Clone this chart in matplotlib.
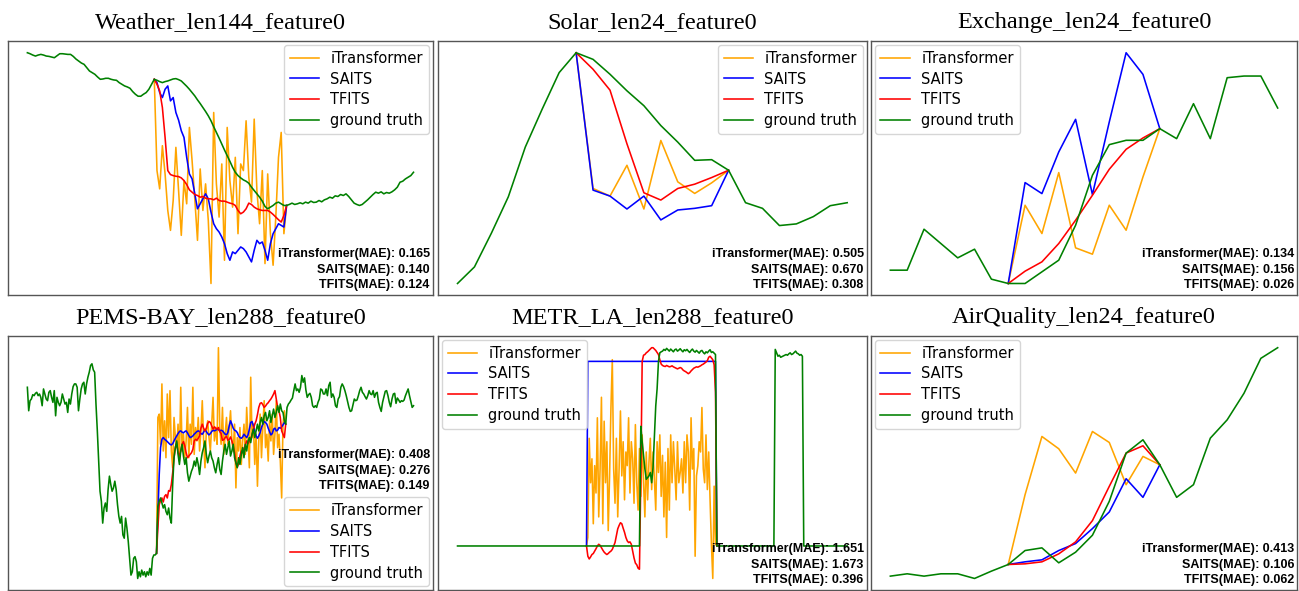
import matplotlib
matplotlib.use('Agg')
import matplotlib.pyplot as plt
import numpy as np

# ---------------- data (normalised values) ----------------
weather_gt = [-0.65, -0.68, -0.72, -0.75, -0.72, -0.70, -0.72, -0.75, -0.76, -0.78,
              -0.80, -0.74, -0.68, -0.68, -0.69, -0.70, -0.70, -0.76, -0.84, -0.90,
              -0.96, -1.00, -1.10, -1.20, -1.25, -1.30, -1.38, -1.45, -1.44, -1.42,
              -1.42, -1.45, -1.47, -1.48, -1.55, -1.60, -1.65, -1.68, -1.72, -1.82,
              -1.90, -1.96, -1.96, -1.90, -1.85, -1.75, -1.60, -1.45, -1.48, -1.52,
              -1.55, -1.52, -1.50, -1.47, -1.44, -1.43, -1.46, -1.50, -1.58, -1.66,
              -1.75, -1.85, -1.95, -2.07, -2.18, -2.30, -2.42, -2.55, -2.70, -2.88,
              -3.05, -3.22, -3.40, -3.58, -3.75, -3.92, -4.10, -4.25, -4.35, -4.42,
              -4.48, -4.52, -4.58, -4.70, -4.80, -4.90, -5.00, -5.12, -5.28, -5.35,
              -5.30, -5.25, -5.18, -5.15, -5.20, -5.25, -5.25, -5.22, -5.18, -5.22,
              -5.20, -5.17, -5.20, -5.15, -5.18, -5.12, -5.16, -5.15, -5.10, -5.14,
              -5.08, -5.05, -5.00, -5.03, -4.96, -4.98, -4.92, -4.95, -4.90, -4.98,
              -5.08, -5.18, -5.22, -5.25, -5.22, -5.15, -5.08, -5.00, -4.92, -4.85,
              -4.88, -4.84, -4.90, -4.86, -4.88, -4.84, -4.78, -4.70, -4.55, -4.52,
              -4.45, -4.40, -4.35, -4.25]
weather_start = 47
weather_itr = [-1.45, -4.20, -4.75, -3.45, -4.30, -5.40, -6.00, -5.10, -3.50, -4.80,
               -6.15, -4.50, -5.20, -2.90, -3.90, -5.05, -6.30, -4.15, -5.40, -4.60,
               -5.70, -7.60, -2.45, -4.60, -5.60, -4.00, -6.90, -2.90, -4.50, -5.30,
               -3.80, -6.10, -4.00, -4.20, -2.70, -4.40, -5.15, -2.65, -4.80, -5.80,
               -4.20, -7.00, -4.30, -6.10, -7.05, -5.60, -3.80, -3.05, -6.10, -5.25]
weather_saits = [-1.45, -1.55, -1.85, -2.00, -1.75, -1.65, -2.10, -2.00, -2.45, -2.68,
                 -3.00, -3.20, -3.80, -4.30, -4.45, -4.90, -5.35, -5.20, -5.05, -4.90,
                 -5.05, -5.45, -5.80, -5.95, -6.05, -6.20, -6.40, -6.70, -6.90, -6.65,
                 -6.70, -6.60, -6.50, -6.55, -6.65, -6.80, -6.95, -6.60, -6.30, -6.40,
                 -6.35, -6.60, -6.90, -6.40, -6.10, -5.95, -5.80, -5.85, -5.90, -5.25]
weather_tfits = [-1.45, -1.60, -1.80, -2.30, -3.20, -4.20, -4.32, -4.35, -4.37, -4.38,
                 -4.42, -4.50, -4.62, -4.78, -4.85, -4.92, -4.95, -5.00, -4.98, -5.03,
                 -5.05, -5.05, -5.08, -5.03, -5.10, -5.12, -5.12, -5.15, -5.18, -5.20,
                 -5.25, -5.40, -5.50, -5.45, -5.35, -5.18, -5.22, -5.30, -5.35, -5.38,
                 -5.40, -5.40, -5.40, -5.45, -5.52, -5.60, -5.68, -5.75, -5.55, -5.25]

solar_gt = [-7.62, -7.12, -6.10, -5.00, -3.50, -2.35, -1.25, -0.65, -0.85, -1.30,
            -1.80, -2.25, -2.85, -3.35, -3.90, -3.88, -4.20, -5.18, -5.35, -5.87,
            -5.82, -5.60, -5.27, -5.18]
solar_start = 7
solar_itr = [-0.65, -4.75, -4.98, -4.05, -5.37, -3.30, -4.55, -4.90, -4.58, -4.20]
solar_saits = [-0.65, -4.80, -4.98, -5.37, -4.98, -5.70, -5.40, -5.35, -5.27, -4.20]
solar_tfits = [-0.65, -1.15, -1.78, -3.40, -4.88, -5.10, -4.75, -4.62, -4.42, -4.20]

exchange_gt = [-7.15, -7.15, -5.92, -6.35, -6.78, -6.52, -7.42, -7.55, -7.55, -7.20,
               -6.85, -5.80, -4.30, -3.38, -3.25, -3.25, -2.90, -3.20, -2.15, -3.20,
               -1.37, -1.32, -1.32, -2.28]
exchange_start = 7
exchange_itr = [-7.55, -5.20, -6.05, -4.22, -6.48, -6.67, -5.20, -5.95, -4.35, -2.90]
exchange_saits = [-7.55, -4.52, -4.85, -3.60, -2.62, -4.88, -2.70, -0.62, -1.27, -2.90]
exchange_tfits = [-7.55, -7.18, -6.90, -6.35, -5.65, -4.90, -4.12, -3.52, -3.18, -2.90]

pems_gt = [-1.40, -2.10, -1.80, -1.75, -1.62, -1.65, -1.58, -1.55, -1.65, -1.60,
           -1.70, -1.95, -1.45, -1.60, -1.75, -1.80, -1.55, -1.50, -1.70, -1.85,
           -1.50, -2.25, -1.70, -1.85, -1.95, -1.85, -1.60, -1.75, -1.90, -1.85,
           -2.15, -1.75, -1.90, -1.60, -1.38, -1.30, -1.30, -1.40, -2.10, -1.75,
           -1.45, -1.30, -1.25, -1.60, -1.30, -1.10, -0.95, -0.75, -0.70, -0.88,
           -0.95, -1.90, -2.70, -3.60, -4.50, -4.80, -5.45, -5.00, -4.85, -5.10,
           -4.45, -4.05, -4.30, -4.50, -4.40, -4.20, -4.45, -4.90, -5.25, -5.45,
           -5.25, -5.80, -5.90, -5.30, -5.60, -6.00, -6.50, -7.00, -6.90, -6.50,
           -6.45, -6.60, -7.10, -6.90, -7.05, -6.85, -7.00, -6.90, -7.05, -6.90,
           -7.00, -6.80, -7.00, -6.50, -6.40, -6.40, -6.35,
           -4.95, -4.80, -4.70, -4.85, -5.00, -4.90, -5.10, -5.20, -5.00, -5.30,
           -5.45, -4.30, -3.50, -3.20, -3.00, -3.40, -3.70, -3.30, -3.10, -3.45,
           -3.70, -3.50, -3.95, -4.20, -4.05, -3.90, -3.80, -3.60, -3.75, -3.50,
           -3.70, -4.00, -3.60, -3.35, -3.20, -3.00, -3.40, -3.65, -3.45, -3.30,
           -3.50, -3.60, -3.80, -3.95, -3.70, -3.50, -3.85, -4.00, -3.60, -3.30,
           -3.10, -3.40, -3.20, -3.00, -3.45, -3.30, -3.10, -3.50, -3.65, -3.80,
           -3.50, -3.70, -3.40, -3.20, -3.50, -3.10, -3.30, -3.00, -2.90, -3.05,
           -2.80, -2.65, -2.90, -2.70, -2.50, -2.70, -2.45, -2.30, -2.50, -2.25,
           -2.15, -2.40, -2.30, -2.10, -2.45, -2.25, -2.05, -2.30, -2.15, -1.95,
           -2.15, -1.90, -2.10, -2.15, -2.40, -2.50,
           -2.00, -1.90, -1.85, -1.78, -1.72, -1.50, -1.30, -1.50, -1.45, -1.55,
           -1.40, -1.05, -1.25, -1.12, -1.48, -1.70, -1.62, -1.58, -1.70, -1.95,
           -2.00, -1.95, -2.00, -1.85, -1.75, -1.45, -1.48, -1.60, -1.60, -1.45,
           -1.65, -1.35, -1.25, -1.70, -1.60, -1.70, -1.95, -2.00, -1.75, -1.68,
           -1.40, -1.30, -1.38, -1.50, -1.65, -1.82, -2.00, -2.12, -2.10, -1.92,
           -1.75, -1.80, -1.78, -1.65, -1.50, -1.40, -1.55, -1.60, -1.68, -1.75,
           -1.65, -1.50, -1.60, -1.62, -1.50, -1.70, -1.58, -1.55, -1.85, -2.00,
           -2.12, -1.85, -1.68, -1.52, -1.50, -1.65, -1.85, -1.98, -1.75, -1.60,
           -1.58, -1.88, -1.72, -1.78, -1.85, -1.80, -1.82, -1.78, -1.65, -1.55,
           -1.45, -1.65, -1.82, -2.00, -1.95]
pems_start = 96
pems_itr = [-6.35, -2.30, -2.20, -3.10, -1.30, -3.30, -2.40, -3.50, -1.60, -2.90,
            -1.50, -3.30, -3.80, -2.30, -2.90, -3.20, -2.50, -3.60, -1.40, -3.30,
            -2.80, -3.50, -3.00, -2.00, -3.50, -2.50, -3.10, -1.40, -3.40, -2.60,
            -3.00, -2.30, -3.30, -2.70, -1.80, -3.00, -3.80, -2.70, -2.40, -2.90,
            -3.30, -2.50, -1.70, -3.00, -2.60, -3.10, -0.22, -2.60, -3.10, -2.00,
            -3.40, -2.80, -2.30, -3.10, -2.60, -2.10, -3.00, -3.30, -2.50, -4.40,
            -2.90, -3.30, -2.60, -3.70, -3.00, -2.50, -3.40, -2.00, -2.90, -3.80,
            -1.10, -2.90, -2.50, -3.70, -2.80, -4.35, -3.00, -2.20, -3.50, -2.60,
            -1.80, -3.20, -2.80, -3.60, -2.40, -3.00, -2.20, -3.40, -2.80, -1.80,
            -3.20, -2.80, -3.60, -4.70, -2.50, -2.10, -2.50]
pems_saits = [-6.35, -5.20, -4.00, -3.20, -2.95, -2.90, -2.95, -2.98, -3.02, -3.06,
              -3.10, -3.12, -3.08, -3.00, -2.92, -2.85, -2.78, -2.72, -2.70, -2.74,
              -2.76, -2.72, -2.70, -2.76, -2.84, -2.90, -2.88, -2.85, -2.80, -2.76,
              -2.72, -2.70, -2.72, -2.78, -2.80, -2.74, -2.66, -2.72, -2.78, -2.82,
              -2.78, -2.72, -2.68, -2.70, -2.68, -2.65, -2.66, -2.70, -2.68, -2.70,
              -2.75, -2.80, -2.82, -2.75, -2.55, -2.40, -2.50, -2.62, -2.68, -2.70,
              -2.75, -2.85, -2.90, -2.92, -2.88, -2.80, -2.85, -2.90, -2.82, -2.65,
              -2.45, -2.42, -2.55, -2.70, -2.85, -2.92, -2.85, -2.75, -2.60, -2.50,
              -2.42, -2.45, -2.50, -2.62, -2.72, -2.82, -2.78, -2.65, -2.62, -2.70,
              -2.68, -2.60, -2.62, -2.58, -2.52, -2.45, -2.50]
pems_tfits = [-6.35, -5.60, -4.90, -4.78, -4.70, -4.82, -4.65, -4.60, -4.70, -4.48,
              -4.50, -4.30, -3.95, -3.50, -3.18, -3.05, -3.35, -3.45, -3.30, -3.10,
              -3.02, -3.15, -3.35, -3.50, -3.45, -3.40, -3.35, -3.25, -3.00, -2.95,
              -2.98, -2.92, -2.85, -2.62, -2.50, -2.62, -2.70, -2.62, -2.48, -2.42,
              -2.45, -2.55, -2.65, -2.58, -2.62, -2.65, -2.60, -2.72, -2.78, -2.98,
              -2.96, -2.90, -2.86, -2.98, -2.96, -2.88, -3.00, -3.15, -3.35, -3.65,
              -3.78, -3.68, -3.45, -3.30, -3.35, -3.22, -3.12, -3.00, -3.08, -3.00,
              -2.92, -2.82, -2.65, -2.50, -2.40, -2.22, -2.00, -1.88, -1.86, -1.92,
              -2.00, -1.96, -1.90, -1.86, -1.80, -1.75, -1.68, -1.60, -1.50, -1.75,
              -2.00, -2.10, -2.30, -2.70, -2.80, -2.90, -2.50]

metr_base = -6.50
metr_gt = ([metr_base] * 135 +
           [-3.00, -3.45, -3.85, -4.25, -4.55, -4.50, -4.45, -4.35, -4.65, -4.20,
            -3.30, -2.40, -1.90, -1.10, -0.85, -0.82, -0.80, -0.75, -0.78, -0.72,
            -0.76, -0.80, -0.74, -0.78, -0.82, -0.76, -0.74, -0.80, -0.77, -0.73,
            -0.78, -0.82, -0.76, -0.79, -0.75, -0.80, -0.84, -0.78, -0.74, -0.80,
            -0.83, -0.78, -0.82, -0.86, -0.80, -0.78, -0.84, -0.88, -0.82, -0.85,
            -0.80, -0.76, -0.84, -0.82, -0.86, -0.90] +
           [metr_base] * 43 +
           [-0.75, -0.85, -0.95, -0.92, -0.98, -0.96, -0.94, -0.92, -0.90, -0.92,
            -0.88, -0.85, -0.90, -0.88, -0.84, -0.80, -0.86, -0.88, -0.92, -0.90,
            -0.95] +
           [metr_base] * 33)
metr_start = 95
metr_itr = [-6.50, -6.25, -3.35, -4.65, -3.95, -5.85, -4.15, -4.95, -2.75, -5.65,
            -4.25, -2.15, -5.85, -2.85, -4.65, -3.45, -6.05, -4.45, -2.45, -1.05,
            -4.25, -5.25, -3.35, -5.65, -4.25, -2.55, -4.45, -3.45, -5.15, -3.75,
            -4.15, -2.75, -4.95, -3.45, -3.95, -5.25, -2.95, -4.65, -5.45, -3.65,
            -5.05, -3.25, -4.65, -5.65, -3.75, -5.15, -4.05, -3.35, -4.85, -3.75,
            -4.55, -5.45, -3.45, -4.35, -3.25, -5.05, -3.85, -5.65, -4.05, -6.25,
            -3.65, -5.45, -3.25, -4.65, -3.45, -4.25, -5.15, -3.45, -4.65, -4.35,
            -3.95, -4.95, -3.45, -4.65, -3.25, -3.75, -5.45, -2.75, -4.25, -3.65,
            -6.80, -4.45, -4.15, -3.45, -3.75, -2.45, -4.25, -4.65, -3.25, -4.85,
            -3.75, -5.15, -6.45, -7.45, -4.75, -6.45, -6.50]
metr_saits = [metr_base] + [-1.10] * 95 + [metr_base]
metr_tfits = [-6.50, -6.80, -6.88, -6.82, -6.75, -6.72, -6.65, -6.58, -6.50, -6.45,
              -6.48, -6.55, -6.62, -6.68, -6.72, -6.75, -6.72, -6.68, -6.65, -6.60,
              -6.50, -6.40, -6.20, -6.00, -5.90, -5.82, -5.85, -5.98, -6.10, -6.25,
              -6.35, -6.40, -6.38, -6.45, -6.65, -6.85, -7.00, -7.05, -7.15, -7.18,
              -4.50, -1.10, -0.92, -0.90, -0.85, -0.82, -0.78, -0.74, -0.70, -0.70,
              -0.74, -0.78, -0.84, -0.90, -1.05, -1.18, -1.22, -1.24, -1.25, -1.22,
              -1.24, -1.26, -1.25, -1.23, -1.26, -1.28, -1.30, -1.32, -1.30, -1.28,
              -1.30, -1.35, -1.38, -1.40, -1.43, -1.46, -1.43, -1.38, -1.34, -1.30,
              -1.28, -1.26, -1.27, -1.25, -1.23, -1.20, -1.18, -1.15, -1.12, -1.08,
              -0.98, -0.95, -1.00, -1.05, -1.20, -2.00, -6.50]

air_gt = [-7.55, -7.48, -7.55, -7.48, -7.48, -7.62, -7.40, -7.20, -6.78, -6.70,
          -7.15, -6.83, -6.32, -5.30, -3.85, -3.45, -4.20, -5.18, -4.80, -3.40,
          -2.85, -2.05, -1.00, -0.68]
air_start = 7
air_itr = [-7.20, -5.10, -3.35, -3.72, -4.45, -3.20, -3.53, -4.80, -3.95, -4.20]
air_saits = [-7.20, -7.12, -7.06, -6.78, -6.57, -6.12, -5.62, -4.62, -5.18, -4.20]
air_tfits = [-7.20, -7.18, -7.12, -6.88, -6.52, -5.88, -4.85, -3.85, -3.63, -4.20]

titles = ['Weather_len144_feature0', 'Solar_len24_feature0', 'Exchange_len24_feature0',
          'PEMS-BAY_len288_feature0', 'METR_LA_len288_feature0', 'AirQuality_len24_feature0']
mae_itr = [0.165, 0.505, 0.134, 0.408, 1.651, 0.413]
mae_saits = [0.140, 0.670, 0.156, 0.276, 1.673, 0.106]
mae_tfits = [0.124, 0.308, 0.026, 0.149, 0.396, 0.062]

panels = [
    (weather_gt, weather_start, weather_itr, weather_saits, weather_tfits),
    (solar_gt, solar_start, solar_itr, solar_saits, solar_tfits),
    (exchange_gt, exchange_start, exchange_itr, exchange_saits, exchange_tfits),
    (pems_gt, pems_start, pems_itr, pems_saits, pems_tfits),
    (metr_gt, metr_start, metr_itr, metr_saits, metr_tfits),
    (air_gt, air_start, air_itr, air_saits, air_tfits),
]
legend_locs = ['upper right', 'upper right', 'upper left', 'lower right', 'upper left', 'upper left']
mae_ypos = [0.015, 0.015, 0.015, 0.385, 0.015, 0.015]

# axes boxes in figure fraction
col_left = [0.0062, 0.3372, 0.6705]
col_width = [0.327, 0.330, 0.328]
row_bottom = [0.5008, 0.0017]
row_height = 0.4295

fig = plt.figure(figsize=(12.99, 5.91), dpi=100)

for k, (gt, start, itr, saits, tfits) in enumerate(panels):
    r, c = divmod(k, 3)
    ax = fig.add_axes([col_left[c], row_bottom[r], col_width[c], row_height])
    x_gt = np.arange(len(gt))
    x_m = np.arange(start, start + len(itr))
    ax.plot(x_m, itr, color='orange', lw=1.15, label='iTransformer')
    ax.plot(x_m, saits, color='blue', lw=1.15, label='SAITS')
    ax.plot(x_m, tfits, color='red', lw=1.15, label='TFITS')
    ax.plot(x_gt, gt, color='green', lw=1.15, label='ground truth')

    ax.set_xticks([])
    ax.set_yticks([])
    for sp in ax.spines.values():
        sp.set_color('#555555')
        sp.set_linewidth(1.0)

    ax.set_title(titles[k], fontsize=17.5, family='Liberation Serif', pad=9.5)
    ax.legend(loc=legend_locs[k], fontsize=10.5, labelspacing=0.4,
              borderaxespad=0.25, handlelength=2.0)

    txt = (f'iTransformer(MAE): {mae_itr[k]:.3f}\n'
           f'SAITS(MAE): {mae_saits[k]:.3f}\n'
           f'TFITS(MAE): {mae_tfits[k]:.3f}')
    ax.text(0.993, mae_ypos[k], txt, transform=ax.transAxes, ha='right', va='bottom',
            multialignment='right', fontsize=9, fontweight='bold',
            family='Liberation Sans', linespacing=1.4)

fig.savefig('out.png', dpi=100)
plt.close(fig)
